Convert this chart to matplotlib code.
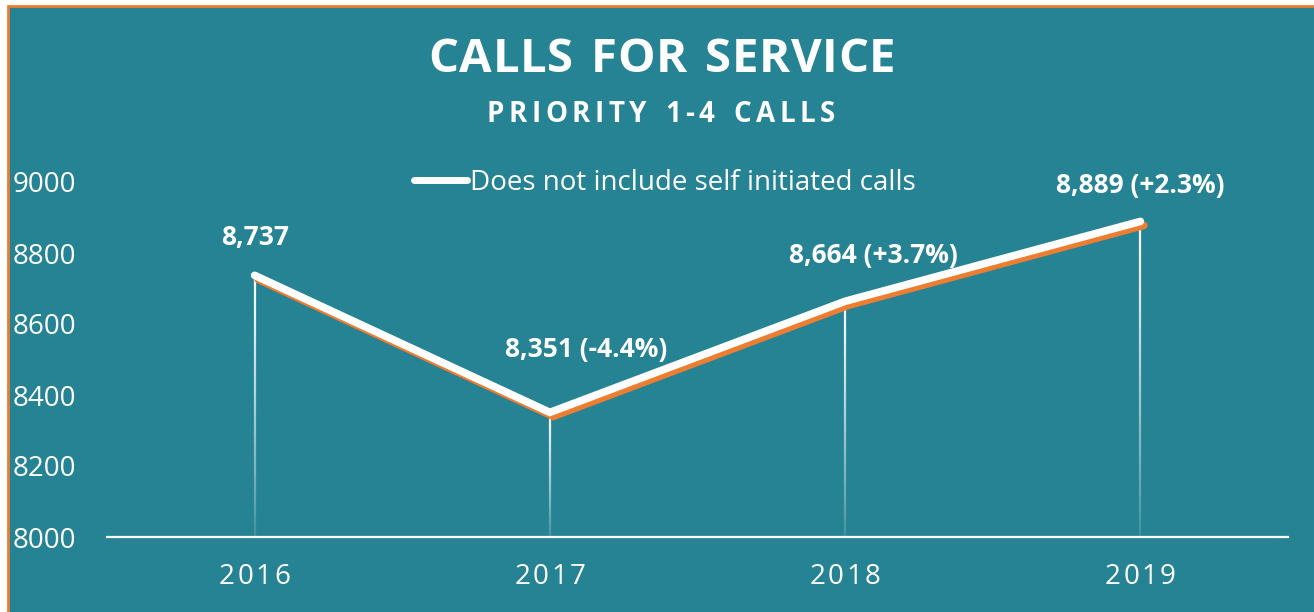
import matplotlib.pyplot as plt
import matplotlib.transforms as mtransforms
from matplotlib.patches import Rectangle
from matplotlib.collections import LineCollection
from matplotlib.lines import Line2D
import numpy as np

years = ["2016", "2017", "2018", "2019"]
calls = [8737, 8351, 8664, 8889]
point_labels = ["8,737", "8,351 (-4.4%)", "8,664 (+3.7%)", "8,889 (+2.3%)"]
yticks = [8000, 8200, 8400, 8600, 8800, 9000]

teal = "#268393"
orange = "#ED7D31"
W, H = 1314, 612

plt.rcParams['font.family'] = ['Open Sans', 'DejaVu Sans']

fig = plt.figure(figsize=(W / 100, H / 100), dpi=100)
fig.patch.set_facecolor("white")
fig.add_artist(Rectangle((8 / W, -0.01), 1.1, (H - 6) / H + 0.01, transform=fig.transFigure,
                         facecolor=teal, edgecolor=orange, linewidth=2, zorder=-5))
renderer = fig.canvas.get_renderer()


def spaced_text(s, xc, y, size, spacing, weight="bold"):
    # draw text char by char with extra tracking, centred on xc (pixels)
    widths = []
    for ch in s:
        t = fig.text(0, 0, ch if ch != " " else "n", fontsize=size, fontweight=weight)
        widths.append(t.get_window_extent(renderer).width * (0.55 if ch == " " else 1.0))
        t.remove()
    total = sum(widths) + spacing * (len(s) - 1)
    xp = xc - total / 2
    for ch, w in zip(s, widths):
        fig.text(xp / W, (H - y) / H, ch, ha="left", va="center", color="white",
                 fontsize=size, fontweight=weight)
        xp += w + spacing


ax = fig.add_axes([107 / W, (H - 537) / H, (1288 - 107) / W, (537 - 182) / H])
ax.set_facecolor("none")
x = np.arange(len(years))
ax.set_xlim(-0.5, len(years) - 0.5)
ax.set_ylim(8000, 9000)

# drop lines fading toward the axis
for xi, v in zip(x, calls):
    ys = np.linspace(v, 8000, 40)
    segs = [[(xi, ys[i]), (xi, ys[i + 1])] for i in range(len(ys) - 1)]
    alphas = np.linspace(1.0, 0.08, len(segs)) ** 0.8
    cols = [(1, 1, 1, a) for a in alphas]
    ax.add_collection(LineCollection(segs, colors=cols, linewidths=1.6, zorder=2))

# orange shadow line
shadow = ax.transData + mtransforms.ScaledTranslation(0.035, -0.04, fig.dpi_scale_trans)
ax.plot(x, calls, color=orange, lw=5.5, transform=shadow, solid_capstyle="round",
        solid_joinstyle="miter", zorder=3)
ax.plot(x, calls, color="white", lw=5.5, solid_capstyle="round", solid_joinstyle="miter",
        zorder=4)

offsets = [(0, 27), (26, 45), (20, 33), (0, 26)]
for xi, v, lab, (dx, dy) in zip(x, calls, point_labels, offsets):
    ax.annotate(lab, (xi, v), xytext=(dx, dy), textcoords="offset points", ha="center",
                va="center", color="white", fontsize=19, fontweight="bold", annotation_clip=False)

for s in ["top", "right", "left"]:
    ax.spines[s].set_visible(False)
ax.spines["bottom"].set_color("white")
ax.spines["bottom"].set_linewidth(1.6)

ax.set_xticks(x)
ax.set_xticklabels([])
ax.tick_params(axis="x", length=0)
ax.set_yticks(yticks)
ax.set_yticklabels([str(t) for t in yticks], color="white", fontsize=20, ha="left")
ax.tick_params(axis="y", length=0, pad=68)

fig.canvas.draw()
for xi, yr in zip(x, years):
    px = ax.transData.transform((xi, 8000))[0]
    spaced_text(yr, px, 577, 20, 2.5, weight="normal")

legend_handle = Line2D([0], [0], color="white", lw=5, solid_capstyle="round")
leg = ax.legend([legend_handle], ["Does not include self initiated calls"], frameon=False,
                loc="center", bbox_to_anchor=(665 / W, (H - 183) / H),
                bbox_transform=fig.transFigure, fontsize=20, handlelength=1.9,
                handletextpad=0.1, labelcolor="white")

spaced_text("CALLS FOR SERVICE", 662, 60, 34, 0.6)
spaced_text("PRIORITY 1-4 CALLS", 661, 115, 20, 4.5)

fig.savefig("out.png", dpi=100, facecolor=fig.get_facecolor())
